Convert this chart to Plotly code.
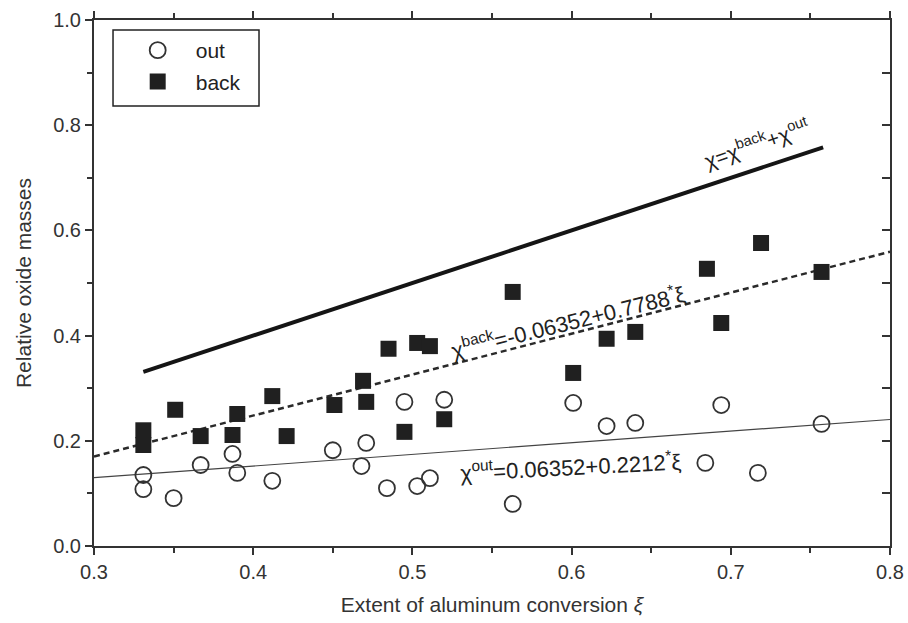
import plotly.graph_objects as go

# Extent of aluminum conversion (xi) and relative oxide masses
out_x = [0.331, 0.331, 0.350, 0.367, 0.387, 0.390, 0.412, 0.450, 0.468, 0.471,
         0.484, 0.495, 0.503, 0.511, 0.520, 0.563, 0.601, 0.622, 0.640, 0.684,
         0.694, 0.717, 0.757]
out_y = [0.135, 0.108, 0.091, 0.154, 0.175, 0.139, 0.124, 0.182, 0.152, 0.196,
         0.110, 0.274, 0.114, 0.129, 0.278, 0.080, 0.272, 0.228, 0.234, 0.158,
         0.268, 0.139, 0.232]

back_x = [0.331, 0.331, 0.351, 0.367, 0.387, 0.390, 0.412, 0.421, 0.451, 0.469,
          0.471, 0.485, 0.495, 0.503, 0.511, 0.520, 0.563, 0.601, 0.622, 0.640,
          0.685, 0.694, 0.719, 0.757]
back_y = [0.220, 0.192, 0.259, 0.209, 0.211, 0.251, 0.285, 0.209, 0.268, 0.314,
          0.274, 0.375, 0.217, 0.386, 0.380, 0.241, 0.483, 0.329, 0.394, 0.407,
          0.527, 0.424, 0.576, 0.521]

# fitted lines (endpoints)
fit_x = [0.30, 0.80]
out_fit = [0.1299, 0.2405]       # 0.06352 + 0.2212*xi
back_fit = [0.1701, 0.5595]      # -0.06352 + 0.7788*xi
total_x = [0.331, 0.758]
total_fit = [0.331, 0.758]       # chi = chi_back + chi_out

x_ticks = [0.3, 0.4, 0.5, 0.6, 0.7, 0.8]
y_ticks = [0.0, 0.2, 0.4, 0.6, 0.8, 1.0]

FONT = "Liberation Sans, Arial, sans-serif"
INK = "#222222"
GREY = "#333333"

fig = go.Figure()

fig.add_trace(go.Scatter(x=fit_x, y=out_fit, mode="lines",
                         line=dict(color="#444444", width=1.2), showlegend=False,
                         hoverinfo="skip"))
fig.add_trace(go.Scatter(x=fit_x, y=back_fit, mode="lines",
                         line=dict(color="#2a2a2a", width=2.5, dash="6px,4px"),
                         showlegend=False, hoverinfo="skip"))
fig.add_trace(go.Scatter(x=total_x, y=total_fit, mode="lines",
                         line=dict(color="#151515", width=4), showlegend=False,
                         hoverinfo="skip"))

fig.add_trace(go.Scatter(x=out_x, y=out_y, mode="markers", name="out",
                         legendgroup="a",
                         marker=dict(symbol="circle-open", size=16,
                                     color=GREY, line=dict(width=1.8, color=GREY))))
fig.add_trace(go.Scatter(x=back_x, y=back_y, mode="markers", name="back",
                         legendgroup="b",
                         marker=dict(symbol="square", size=16, color="#202020",
                                     line=dict(width=0))))

# invisible trace for right-side y axis with inside ticks
fig.add_trace(go.Scatter(x=[0.3], y=[0.0], yaxis="y2", mode="markers",
                         marker=dict(opacity=0), showlegend=False, hoverinfo="skip"))

ann_font = dict(family=FONT, size=22, color=INK)
fig.add_annotation(x=0.716, y=0.766, xref="x", yref="y",
                   text="χ=χ<sup>back</sup>+χ<sup>out</sup>", showarrow=False,
                   textangle=-19, font=dict(family=FONT, size=21, color=INK))
fig.add_annotation(x=0.598, y=0.428, xref="x", yref="y",
                   text="χ<sup>back</sup>=-0.06352+0.7788<sup>*</sup>ξ", showarrow=False,
                   textangle=-14, font=ann_font)
fig.add_annotation(x=0.599, y=0.153, xref="x", yref="y",
                   text="χ<sup>out</sup>=0.06352+0.2212<sup>*</sup>ξ", showarrow=False,
                   textangle=-3, font=ann_font)

# legend frame
fig.add_shape(type="rect", xref="paper", yref="paper",
              x0=0.0239, x1=0.2073, y0=0.8365, y1=0.981,
              line=dict(color=INK, width=1.5), fillcolor="rgba(0,0,0,0)")

fig.update_layout(
    width=908, height=623,
    margin=dict(l=94, r=18, t=20, b=77),
    paper_bgcolor="white", plot_bgcolor="white",
    font=dict(family=FONT, color=GREY),
    legend=dict(x=0.026, y=0.981, xanchor="left", yanchor="top",
                borderwidth=0, bgcolor="rgba(0,0,0,0)",
                font=dict(family=FONT, size=21, color=INK),
                itemwidth=66, indentation=5, tracegroupgap=1),
    xaxis=dict(range=[0.3, 0.8], tickvals=x_ticks,
               ticktext=[f"{v:.1f}" for v in x_ticks],
               showgrid=False, zeroline=False, automargin=False,
               showline=True, linecolor=GREY, linewidth=2, mirror="ticks",
               ticks="outside", ticklen=7, tickwidth=1.5, tickcolor=GREY,
               minor=dict(dtick=0.05, ticks="outside", ticklen=5, tickwidth=1.5,
                          tickcolor=GREY),
               tickfont=dict(family=FONT, size=20, color=GREY),
               title=dict(text="Extent of aluminum conversion <i>ξ</i>",
                          font=dict(family=FONT, size=21, color=GREY),
                          standoff=15)),
    yaxis=dict(range=[0.0, 1.0], tickvals=y_ticks,
               ticktext=[f"{v:.1f}" for v in y_ticks],
               showgrid=False, zeroline=False, automargin=False,
               showline=True, linecolor=GREY, linewidth=2, mirror=True,
               ticks="outside", ticklen=7, tickwidth=1.5, tickcolor=GREY,
               minor=dict(dtick=0.1, ticks="outside", ticklen=5, tickwidth=1.5,
                          tickcolor=GREY),
               tickfont=dict(family=FONT, size=20, color=GREY),
               title=dict(text="Relative oxide masses",
                          font=dict(family=FONT, size=21, color=GREY),
                          standoff=16)),
    yaxis2=dict(range=[0.0, 1.0], overlaying="y", side="right", dtick=0.1,
                showticklabels=False, showgrid=False, zeroline=False,
                ticks="inside", ticklen=8, tickwidth=1.5, tickcolor=GREY,
                showline=False),
)

fig.write_html("out.html")
